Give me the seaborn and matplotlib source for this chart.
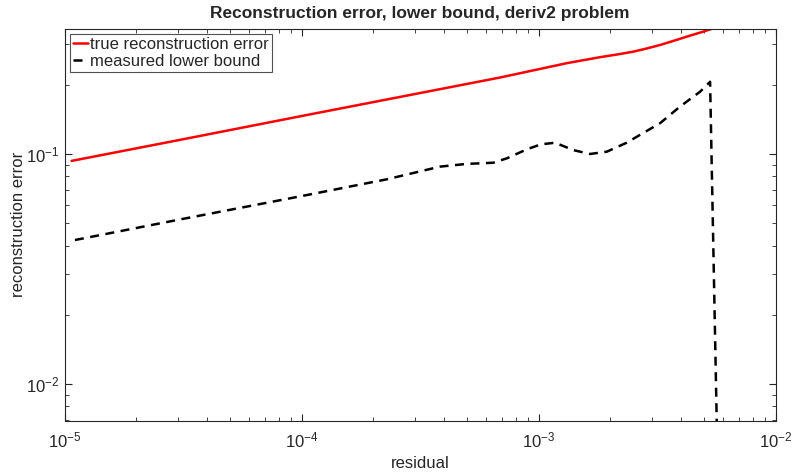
import numpy as np
import pandas as pd
import matplotlib
matplotlib.use("Agg")
import matplotlib.pyplot as plt
import seaborn as sns
from matplotlib.ticker import LogLocator, NullFormatter

# log10 of residual / reconstruction error along each curve
true_log_res = [-4.97, -4.5, -4.0, -3.5, -3.3, -3.16, -3.02, -2.88, -2.74, -2.66,
                -2.60, -2.55, -2.487, -2.43, -2.375, -2.305, -2.248, -2.22]
true_log_err = [-1.030, -0.936, -0.835, -0.735, -0.695, -0.667, -0.636, -0.605,
                -0.579, -0.566, -0.555, -0.543, -0.526, -0.508, -0.490, -0.468,
                -0.449, -0.439]

bound_log_res = [-4.956, -4.5, -4.0, -3.64, -3.416, -3.303, -3.191, -3.134,
                 -3.05, -2.99, -2.93, -2.853, -2.783, -2.712, -2.628, -2.572,
                 -2.487, -2.403, -2.318, -2.276, -2.248, -2.242]
bound_log_err = [-1.374, -1.282, -1.183, -1.110, -1.055, -1.043, -1.038, -1.019,
                 -0.980, -0.958, -0.951, -0.983, -1.000, -0.990, -0.951, -0.917,
                 -0.866, -0.794, -0.729, -0.686, -2.16, -2.5]

series_names = ["true reconstruction error", "measured lower bound"]
title_text = "Reconstruction error, lower bound, deriv2 problem"
x_label = "residual"
y_label = "reconstruction error"

true_df = pd.DataFrame({"residual": np.power(10.0, true_log_res),
                        "error": np.power(10.0, true_log_err)})
bound_df = pd.DataFrame({"residual": np.power(10.0, bound_log_res),
                         "error": np.power(10.0, bound_log_err)})

sns.set_style("white")
plt.rcParams["font.family"] = ["Liberation Sans", "DejaVu Sans"]
plt.rcParams["mathtext.default"] = "regular"

fig = plt.figure(figsize=(7.93, 4.74), dpi=100)
ax = fig.add_axes([64.5 / 793, 1 - 420.5 / 474, (775.5 - 64.5) / 793, (420.5 - 29) / 474])

sns.lineplot(data=true_df, x="residual", y="error", ax=ax, color="#ff0000",
             lw=1.8, label=series_names[0], sort=False)
sns.lineplot(data=bound_df, x="residual", y="error", ax=ax, color="black",
             lw=1.8, label=series_names[1], sort=False)
ax.lines[1].set_dashes([3.6, 2.6])

ax.set_xscale("log")
ax.set_yscale("log")
ax.set_xlim(1e-5, 1e-2)
ax.set_ylim(0.00694, 0.3495)

ax.xaxis.set_major_locator(LogLocator(base=10, numticks=100))
ax.yaxis.set_major_locator(LogLocator(base=10, numticks=100))
ax.xaxis.set_minor_locator(LogLocator(base=10, subs=np.arange(2, 10), numticks=100))
ax.yaxis.set_minor_locator(LogLocator(base=10, subs=np.arange(2, 10), numticks=100))
ax.xaxis.set_minor_formatter(NullFormatter())
ax.yaxis.set_minor_formatter(NullFormatter())

axis_color = "#262626"
for s in ax.spines.values():
    s.set_visible(True)
    s.set_color(axis_color)
    s.set_linewidth(0.8)
ax.tick_params(which="both", direction="in", top=True, right=True,
               bottom=True, left=True,
               color=axis_color, labelcolor=axis_color, labelsize=12)
ax.tick_params(which="major", length=5, width=0.8)
ax.tick_params(which="minor", length=3, width=0.6)
ax.tick_params(axis="x", which="major", pad=7)
ax.tick_params(axis="y", which="major", pad=4)

ax.set_xlabel(x_label, fontsize=12, color=axis_color, labelpad=4)
ax.set_ylabel(y_label, fontsize=12, color=axis_color, labelpad=0)
ax.set_title(title_text, fontsize=12.5, fontweight="bold", pad=8)

leg = ax.legend(loc="upper left", fontsize=12, frameon=True, fancybox=False,
                handlelength=0.9, handletextpad=0.1, borderpad=0.2,
                labelspacing=0.1, borderaxespad=0.3)
leg.get_frame().set_edgecolor(axis_color)
leg.get_frame().set_linewidth(0.8)

fig.savefig("out.png", dpi=100)
